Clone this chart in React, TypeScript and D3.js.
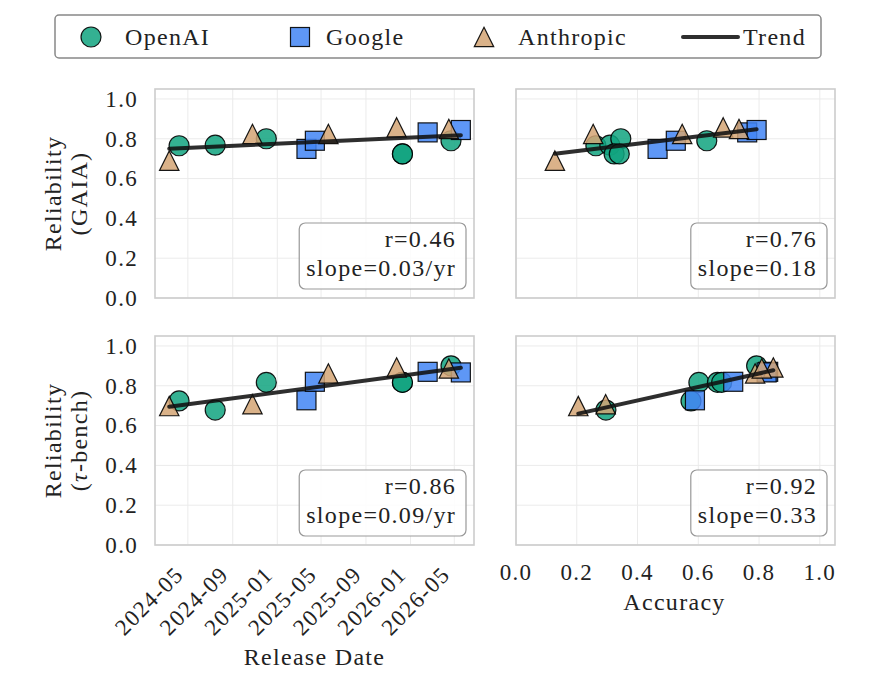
import { useRef, useEffect } from 'react';
import * as d3 from 'd3';

// per-model values, grouped by lab
const OPENAI_DATES = ['2024-04-07', '2024-07-15', '2024-12-02', '2025-12-10', '2025-12-10', '2026-04-22'];
const OPENAI_GAIA_REL = [0.765, 0.768, 0.8, 0.724, 0.724, 0.79];
const OPENAI_GAIA_ACC = [0.263, 0.309, 0.345, 0.323, 0.34, 0.628];
const OPENAI_TAU_REL = [0.724, 0.678, 0.817, 0.817, 0.817, 0.9];
const OPENAI_TAU_ACC = [0.576, 0.296, 0.602, 0.663, 0.677, 0.792];

const GOOGLE_DATES = ['2025-03-22', '2025-04-14', '2026-02-17', '2026-05-19'];
const GOOGLE_GAIA_REL = [0.749, 0.79, 0.832, 0.844];
const GOOGLE_GAIA_ACC = [0.466, 0.526, 0.761, 0.792];
const GOOGLE_TAU_REL = [0.727, 0.82, 0.87, 0.867];
const GOOGLE_TAU_ACC = [0.589, 0.715, 0.83, 0.825];

const ANTHROPIC_DATES = ['2024-03-11', '2024-10-25', '2025-05-21', '2025-11-24', '2026-04-16'];
const ANTHROPIC_GAIA_REL = [0.69, 0.824, 0.824, 0.857, 0.849];
const ANTHROPIC_GAIA_ACC = [0.128, 0.254, 0.547, 0.682, 0.734];
const ANTHROPIC_TAU_REL = [0.698, 0.707, 0.862, 0.892, 0.887];
const ANTHROPIC_TAU_ACC = [0.205, 0.295, 0.787, 0.847, 0.809];

const DATE_TICKS = ['2024-05-01', '2024-09-01', '2025-01-01', '2025-05-01', '2025-09-01', '2026-01-01', '2026-05-01'];
const DATE_DOMAIN = ['2024-02-01', '2026-06-24'];
const VALUE_TICKS = [0, 0.2, 0.4, 0.6, 0.8, 1.0];

const STATS_GAIA_DATE = ['r=0.46', 'slope=0.03/yr'];
const STATS_GAIA_ACC = ['r=0.76', 'slope=0.18'];
const STATS_TAU_DATE = ['r=0.86', 'slope=0.09/yr'];
const STATS_TAU_ACC = ['r=0.92', 'slope=0.33'];

const WIDTH = 875;
const HEIGHT = 683;
const FONT = '"Liberation Serif", "DejaVu Serif", serif';
const LS = '1.3px';
const COL_X = [155, 516];
const COL_W = 319;
const ROW_Y = [89, 336];
const ROW_H = 209;

type Shape = 'circle' | 'square' | 'triangle';
interface Lab {
  name: string;
  color: string;
  shape: Shape;
  dates: string[];
  gaiaRel: number[];
  gaiaAcc: number[];
  tauRel: number[];
  tauAcc: number[];
}

const LABS: Lab[] = [
  { name: 'OpenAI', color: '#10a37f', shape: 'circle', dates: OPENAI_DATES, gaiaRel: OPENAI_GAIA_REL, gaiaAcc: OPENAI_GAIA_ACC, tauRel: OPENAI_TAU_REL, tauAcc: OPENAI_TAU_ACC },
  { name: 'Google', color: '#4285f4', shape: 'square', dates: GOOGLE_DATES, gaiaRel: GOOGLE_GAIA_REL, gaiaAcc: GOOGLE_GAIA_ACC, tauRel: GOOGLE_TAU_REL, tauAcc: GOOGLE_TAU_ACC },
  { name: 'Anthropic', color: '#d4a574', shape: 'triangle', dates: ANTHROPIC_DATES, gaiaRel: ANTHROPIC_GAIA_REL, gaiaAcc: ANTHROPIC_GAIA_ACC, tauRel: ANTHROPIC_TAU_REL, tauAcc: ANTHROPIC_TAU_ACC },
];

const parse = d3.timeParse('%Y-%m-%d');

function drawMarker(
  g: d3.Selection<SVGGElement, unknown, null, undefined>,
  shape: Shape, cx: number, cy: number, color: string,
) {
  let m;
  if (shape === 'circle') {
    m = g.append('circle').attr('cx', cx).attr('cy', cy).attr('r', 10);
  } else if (shape === 'square') {
    m = g.append('rect').attr('x', cx - 9.5).attr('y', cy - 9.5).attr('width', 19).attr('height', 19);
  } else {
    const h = 9.7;
    m = g.append('path').attr('d', `M${cx},${cy - h}L${cx + h},${cy + h}L${cx - h},${cy + h}Z`);
  }
  m.attr('fill', color).attr('fill-opacity', 0.85)
    .attr('stroke', '#000').attr('stroke-opacity', 0.9).attr('stroke-width', 1.2);
}

function fit(xs: number[], ys: number[]) {
  const mx = d3.mean(xs)!;
  const my = d3.mean(ys)!;
  let sxy = 0;
  let sxx = 0;
  xs.forEach((x, i) => {
    sxy += (x - mx) * (ys[i] - my);
    sxx += (x - mx) * (x - mx);
  });
  const b = sxy / sxx;
  return (x: number) => my + b * (x - mx);
}

export default function App() {
  const svgRef = useRef<SVGSVGElement>(null);

  useEffect(() => {
    if (!svgRef.current) return;
    const svg = d3.select(svgRef.current);
    svg.selectAll('*').remove();
    svg.attr('font-family', FONT).attr('letter-spacing', LS);

    const xDate = d3.scaleTime()
      .domain(DATE_DOMAIN.map((d) => parse(d)!))
      .range([0, COL_W]);
    const xAcc = d3.scaleLinear().domain([0, 1.05]).range([0, COL_W]);
    const y = d3.scaleLinear().domain([0, 1.05]).range([ROW_H, 0]);

    const panels = [
      { row: 0, col: 0, bench: 'gaia', byDate: true, stats: STATS_GAIA_DATE },
      { row: 0, col: 1, bench: 'gaia', byDate: false, stats: STATS_GAIA_ACC },
      { row: 1, col: 0, bench: 'tau', byDate: true, stats: STATS_TAU_DATE },
      { row: 1, col: 1, bench: 'tau', byDate: false, stats: STATS_TAU_ACC },
    ];

    panels.forEach((p) => {
      const g = svg.append('g').attr('transform', `translate(${COL_X[p.col]},${ROW_Y[p.row]})`);
      g.append('rect').attr('width', COL_W).attr('height', ROW_H).attr('fill', '#fff');

      const xPos = (lab: Lab, i: number) =>
        p.byDate ? xDate(parse(lab.dates[i])!) : xAcc(p.bench === 'gaia' ? lab.gaiaAcc[i] : lab.tauAcc[i]);
      const xTicks = p.byDate ? DATE_TICKS.map((d) => xDate(parse(d)!)) : VALUE_TICKS.map((v) => xAcc(v));

      // grid
      const grid = g.append('g').attr('stroke', '#ebebeb').attr('stroke-width', 1);
      VALUE_TICKS.forEach((v) => {
        grid.append('line').attr('x1', 0).attr('x2', COL_W).attr('y1', y(v)).attr('y2', y(v));
      });
      xTicks.forEach((x) => {
        grid.append('line').attr('x1', x).attr('x2', x).attr('y1', 0).attr('y2', ROW_H);
      });

      // markers
      const allX: number[] = [];
      const allY: number[] = [];
      LABS.forEach((lab) => {
        const rel = p.bench === 'gaia' ? lab.gaiaRel : lab.tauRel;
        rel.forEach((v, i) => {
          const px = xPos(lab, i);
          drawMarker(g, lab.shape, px, y(v), lab.color);
          allX.push(p.byDate ? parse(lab.dates[i])!.getTime() : (p.bench === 'gaia' ? lab.gaiaAcc[i] : lab.tauAcc[i]));
          allY.push(v);
        });
      });

      // trend
      const f = fit(allX, allY);
      const x0 = d3.min(allX)!;
      const x1 = d3.max(allX)!;
      const sx = (v: number) => (p.byDate ? xDate(new Date(v)) : xAcc(v));
      g.append('line')
        .attr('x1', sx(x0)).attr('y1', y(f(x0)))
        .attr('x2', sx(x1)).attr('y2', y(f(x1)))
        .attr('stroke', '#111').attr('stroke-opacity', 0.88)
        .attr('stroke-width', 4).attr('stroke-linecap', 'round');

      // stats box
      const box = g.append('g');
      const t = box.append('text').attr('text-anchor', 'end').attr('font-size', 24).attr('fill', '#222');
      p.stats.forEach((s, i) => {
        t.append('tspan').attr('x', COL_W - 18).attr('y', ROW_H - 51 + i * 28.5).text(s);
      });
      const bb = (t.node() as SVGTextElement).getBBox();
      box.insert('rect', 'text')
        .attr('x', bb.x - 7).attr('y', ROW_H - 75)
        .attr('width', COL_W - 8 - (bb.x - 7)).attr('height', 66)
        .attr('rx', 6)
        .attr('fill', '#fff').attr('fill-opacity', 0.85)
        .attr('stroke', '#999').attr('stroke-width', 1.2);

      // frame
      g.append('rect').attr('width', COL_W).attr('height', ROW_H)
        .attr('fill', 'none').attr('stroke', '#cccccc').attr('stroke-width', 1.6);

      // y tick labels
      if (p.col === 0) {
        VALUE_TICKS.forEach((v) => {
          g.append('text').attr('x', -17).attr('y', y(v)).attr('dy', '0.34em')
            .attr('text-anchor', 'end').attr('font-size', 23).attr('fill', '#222')
            .text(d3.format('.1f')(v));
        });
      }

      // x tick labels
      if (p.row === 1) {
        if (p.byDate) {
          DATE_TICKS.forEach((d) => {
            const px = xDate(parse(d)!);
            g.append('text')
              .attr('transform', `translate(${px - 3},${ROW_H + 31}) rotate(-45)`)
              .attr('text-anchor', 'end').attr('font-size', 23).attr('fill', '#222')
              .text(d3.timeFormat('%Y-%m')(parse(d)!));
          });
        } else {
          VALUE_TICKS.forEach((v) => {
            g.append('text').attr('x', xAcc(v)).attr('y', ROW_H + 35)
              .attr('text-anchor', 'middle').attr('font-size', 23).attr('fill', '#222')
              .text(d3.format('.1f')(v));
          });
        }
      }
    });

    // axis titles
    const ylab = (row: number, second: (t: d3.Selection<SVGTextElement, unknown, null, undefined>) => void) => {
      const cy = ROW_Y[row] + ROW_H / 2;
      svg.append('text').attr('transform', `translate(61,${cy}) rotate(-90)`)
        .attr('text-anchor', 'middle').attr('font-size', 24).attr('fill', '#222').text('Reliability');
      const t2 = svg.append('text').attr('transform', `translate(87,${cy}) rotate(-90)`)
        .attr('text-anchor', 'middle').attr('font-size', 24).attr('fill', '#222');
      second(t2);
    };
    ylab(0, (t) => t.text('(GAIA)'));
    ylab(1, (t) => {
      t.append('tspan').text('(');
      t.append('tspan').attr('font-style', 'italic').text('τ');
      t.append('tspan').text('-bench)');
    });

    svg.append('text').attr('x', COL_X[0] + COL_W / 2).attr('y', 665)
      .attr('text-anchor', 'middle').attr('font-size', 24).attr('fill', '#222').text('Release Date');
    svg.append('text').attr('x', COL_X[1] + COL_W / 2 - 1).attr('y', 610)
      .attr('text-anchor', 'middle').attr('font-size', 24).attr('fill', '#222').text('Accuracy');

    // legend
    const lg = svg.append('g');
    lg.append('rect').attr('x', 55).attr('y', 15).attr('width', 766).attr('height', 43).attr('rx', 4)
      .attr('fill', '#fff').attr('stroke', '#888').attr('stroke-width', 1.5);
    const ly = 37;
    const items = [
      { lab: LABS[0], mx: 91, tx: 125 },
      { lab: LABS[1], mx: 300, tx: 326 },
      { lab: LABS[2], mx: 484, tx: 518 },
    ];
    items.forEach((it) => {
      drawMarker(lg, it.lab.shape, it.mx, ly, it.lab.color);
      lg.append('text').attr('x', it.tx).attr('y', ly).attr('dy', '0.34em')
        .attr('font-size', 24).attr('fill', '#222').text(it.lab.name);
    });
    lg.append('line').attr('x1', 683).attr('x2', 738).attr('y1', ly).attr('y2', ly)
      .attr('stroke', '#111').attr('stroke-opacity', 0.88).attr('stroke-width', 4).attr('stroke-linecap', 'round');
    lg.append('text').attr('x', 743).attr('y', ly).attr('dy', '0.34em')
      .attr('font-size', 24).attr('fill', '#222').text('Trend');
  }, []);

  return (
    <svg
      ref={svgRef}
      width={WIDTH}
      height={HEIGHT}
      style={{ position: 'absolute', left: 0, top: 0, background: '#fff' }}
    />
  );
}
